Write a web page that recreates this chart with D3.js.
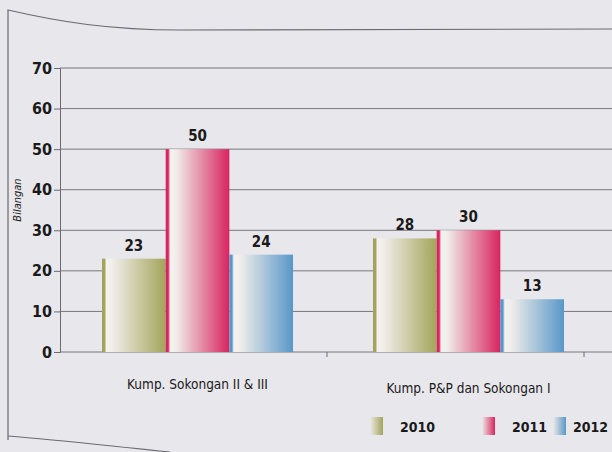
<!DOCTYPE html>
<html>
<head>
<meta charset="utf-8">
<script src="https://cdn.jsdelivr.net/npm/d3@7"></script>
<style>
  body { margin: 0; background: #e8e7ec; }
  svg { display: block; }
  text { font-family: "DejaVu Sans Condensed", "Liberation Sans Narrow", "Liberation Sans", Arial, sans-serif; font-stretch: condensed; fill: #1a1a1a; }
</style>
</head>
<body>
<div id="chart"></div>
<script>
var categories = ["Kump. Sokongan II & III", "Kump. P&P dan Sokongan I"];
var years = ["2010", "2011", "2012"];
var values2010 = [23, 28];
var values2011 = [50, 30];
var values2012 = [24, 13];
var yTicks = [0, 10, 20, 30, 40, 50, 60, 70];

var colors = { "2010": "#a3a45a", "2011": "#d8245f", "2012": "#5997c9" };

var width = 612, height = 452;
var svg = d3.select("#chart").append("svg")
  .attr("width", width)
  .attr("height", height);

var defs = svg.append("defs");
years.forEach(function(yr) {
  var g = defs.append("linearGradient")
    .attr("id", "grad" + yr)
    .attr("x1", "0%").attr("x2", "100%").attr("y1", "0%").attr("y2", "0%");
  g.append("stop").attr("offset", "0%").attr("stop-color", colors[yr]);
  g.append("stop").attr("offset", "4%").attr("stop-color", colors[yr]);
  g.append("stop").attr("offset", "7%").attr("stop-color", "#f4f2f0");
  g.append("stop").attr("offset", "16%").attr("stop-color", "#f1eeea");
  g.append("stop").attr("offset", "100%").attr("stop-color", colors[yr]);
  var lg = defs.append("linearGradient")
    .attr("id", "leg" + yr)
    .attr("x1", "0%").attr("x2", "100%").attr("y1", "0%").attr("y2", "0%");
  lg.append("stop").attr("offset", "0%").attr("stop-color", "#ece9e6");
  lg.append("stop").attr("offset", "100%").attr("stop-color", colors[yr]);
});

// page frame (scanned book edge)
svg.append("path")
  .attr("d", "M8,440 L8,10 C60,22 110,30 180,30 L612,29")
  .attr("fill", "none").attr("stroke", "#6a6a70").attr("stroke-width", 1.2);
svg.append("path")
  .attr("d", "M8,436 C60,440 110,446 170,452")
  .attr("fill", "none").attr("stroke", "#6a6a70").attr("stroke-width", 1.2);

var axisX = 60;

var y = d3.scaleLinear().domain([0, 70]).range([352, 68]);
var x0 = d3.scaleBand().domain(categories).range([102, 564]).paddingInner(0.295).paddingOuter(0);
var x1 = d3.scaleBand().domain(years).range([0, x0.bandwidth()]).padding(0);

// grid lines
svg.append("g").selectAll("line")
  .data(yTicks)
  .enter().append("line")
  .attr("x1", axisX).attr("x2", width)
  .attr("y1", function(d) { return y(d); })
  .attr("y2", function(d) { return y(d); })
  .attr("stroke", "#77777c").attr("stroke-width", 1);

// y axis
var yAxis = d3.axisLeft(y).tickValues(yTicks).tickSize(6).tickPadding(2);
var gy = svg.append("g")
  .attr("transform", "translate(" + axisX + ",0)")
  .call(yAxis);
gy.select(".domain").attr("stroke", "#6a6a70");
gy.selectAll(".tick line").attr("stroke", "#6a6a70");
gy.selectAll(".tick text")
  .style("font-size", "16px").style("font-weight", "bold").attr("fill", "#1a1a1a");

svg.append("text")
  .attr("transform", "translate(21,200) rotate(-90)")
  .attr("text-anchor", "middle")
  .style("font-size", "11px").style("font-style", "italic")
  .text("Bilangan");

// x axis ticks between groups
svg.append("g").selectAll("line")
  .data([327, 584])
  .enter().append("line")
  .attr("x1", function(d) { return d; }).attr("x2", function(d) { return d; })
  .attr("y1", y(0)).attr("y2", y(0) + 5)
  .attr("stroke", "#6a6a70");

var rows = categories.map(function(c, i) {
  return { cat: c, vals: [
    { yr: "2010", v: values2010[i] },
    { yr: "2011", v: values2011[i] },
    { yr: "2012", v: values2012[i] }
  ] };
});

var groups = svg.append("g").selectAll("g")
  .data(rows)
  .enter().append("g")
  .attr("transform", function(d) { return "translate(" + x0(d.cat) + ",0)"; });

groups.selectAll("rect")
  .data(function(d) { return d.vals; })
  .enter().append("rect")
  .attr("x", function(d) { return x1(d.yr); })
  .attr("width", x1.bandwidth())
  .attr("y", function(d) { return y(d.v); })
  .attr("height", function(d) { return y(0) - y(d.v); })
  .attr("fill", function(d) { return "url(#grad" + d.yr + ")"; });

groups.selectAll("text.val")
  .data(function(d) { return d.vals; })
  .enter().append("text")
  .attr("class", "val")
  .attr("x", function(d) { return x1(d.yr) + x1.bandwidth() / 2; })
  .attr("y", function(d) { return y(d.v) - 8; })
  .attr("text-anchor", "middle")
  .style("font-size", "15px").style("font-weight", "bold")
  .text(function(d) { return d.v; });

// category labels
svg.append("g").selectAll("text")
  .data(categories)
  .enter().append("text")
  .attr("x", function(d) { return x0(d) + x0.bandwidth() / 2; })
  .attr("y", function(d, i) { return 389 + i * 4; })
  .attr("text-anchor", "middle")
  .style("font-size", "13.5px")
  .text(function(d) { return d; });

// legend
var legX = [370, 482, 553];
var legTextX = [400, 512, 573];
var leg = svg.append("g").selectAll("g")
  .data(years)
  .enter().append("g");
leg.append("rect")
  .attr("x", function(d, i) { return legX[i]; })
  .attr("y", 417)
  .attr("width", 13).attr("height", 18)
  .attr("fill", function(d) { return "url(#leg" + d + ")"; });
leg.append("text")
  .attr("x", function(d, i) { return legTextX[i]; })
  .attr("y", 432)
  .style("font-size", "14px").style("font-weight", "bold")
  .text(function(d) { return d; });
</script>
</body>
</html>
